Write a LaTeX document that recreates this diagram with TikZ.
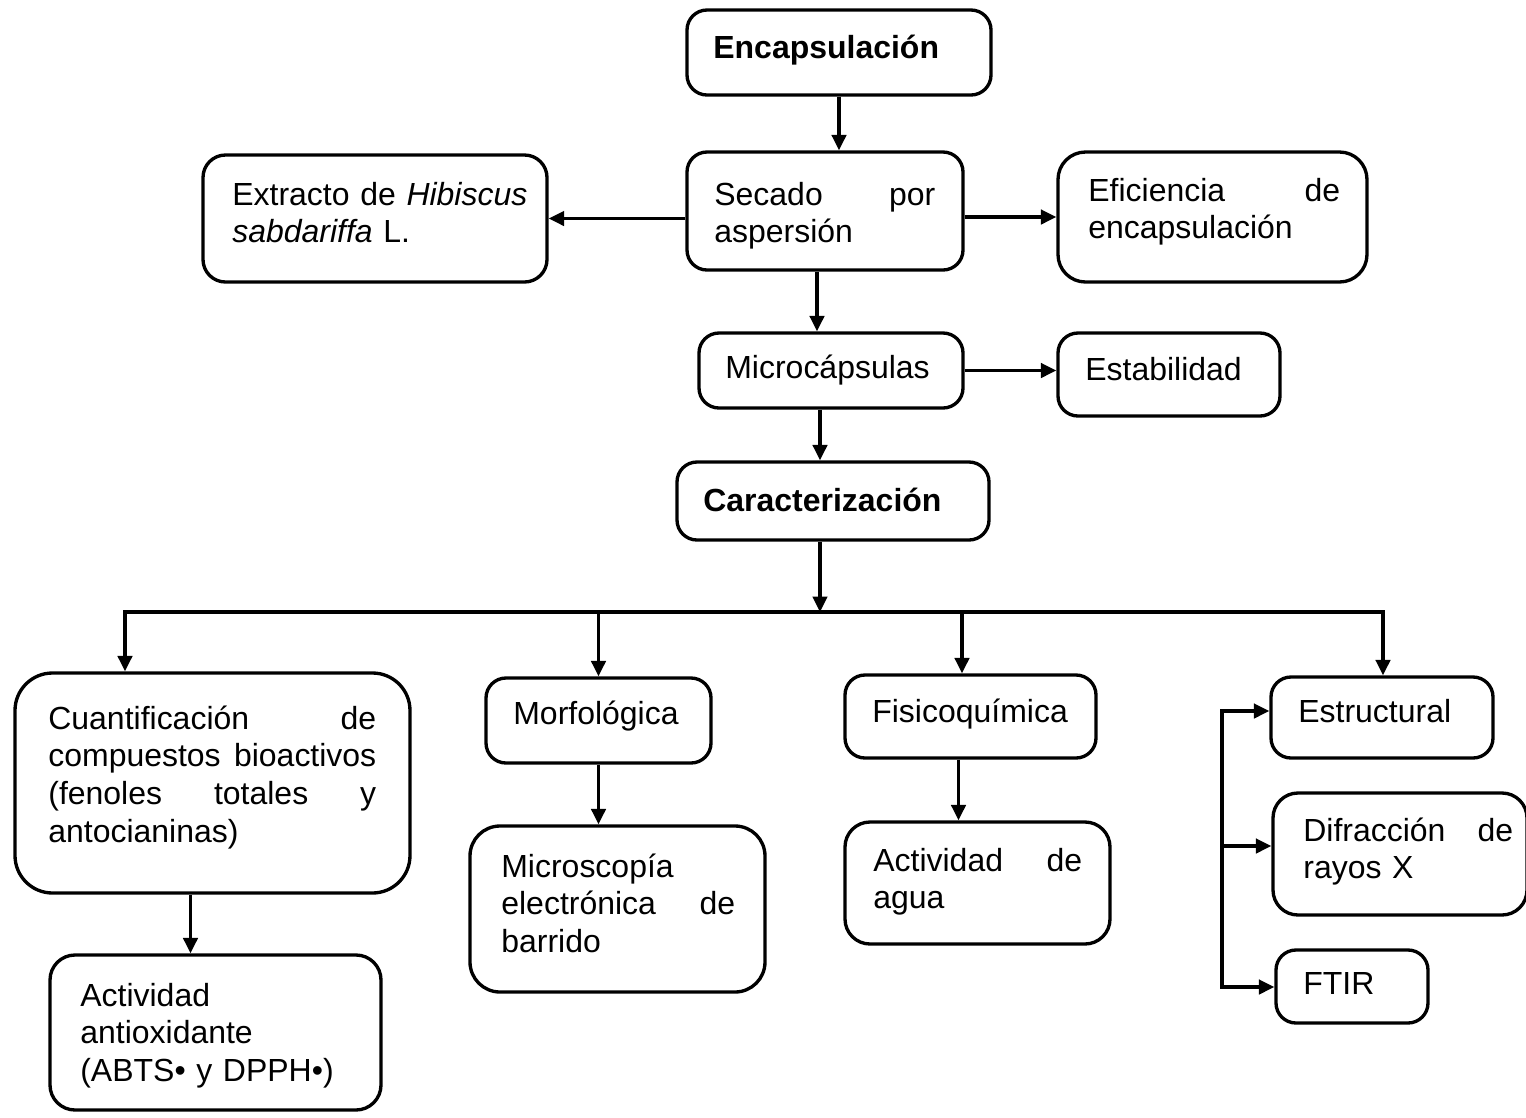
\documentclass[tikz,border=0pt]{standalone}
\usepackage{fontspec}
\setmainfont{Liberation Sans}
\usepackage{tikz}
\usetikzlibrary{arrows.meta,positioning,fit,calc}
\tikzset{
    flowBox/.style={
        draw,
        line width=1.9pt,
        rounded corners=4mm,
        inner sep=0pt
    },
    flowText/.style={
        anchor=base west,
        inner sep=0pt,
        align=left,
        font=\fontsize{18.2pt}{21.6pt}\selectfont
    },
    flowArrow/.style={
        -{Triangle[length=3.1mm,width=2.9mm]},
        line width=1.8pt
    },
    flowLine/.style={
        line width=1.8pt,
        line cap=rect
    }
}

\begin{document}
\begin{tikzpicture}[x=0.02cm,y=-0.02cm]
    \useasboundingbox (0,0) rectangle (1526,1117);

    % boxes
    \node[flowBox,fit={(687,10) (991,95)}] (encap) {};
    \node[flowBox,fit={(687,152) (963,270)}] (secado) {};
    \node[flowBox,rounded corners=4.5mm,fit={(203,155) (547,282)}] (extracto) {};
    \node[flowBox,rounded corners=5.5mm,fit={(1058,152) (1367,282)}] (efic) {};
    \node[flowBox,fit={(699,333) (963,408)}] (micro) {};
    \node[flowBox,fit={(1058,333) (1280,416)}] (estab) {};
    \node[flowBox,fit={(677,462) (989,540)}] (carac) {};
    \node[flowBox,rounded corners=7.5mm,fit={(15,673) (410,893)}] (cuant) {};
    \node[flowBox,rounded corners=5mm,fit={(50,955) (381,1110)}] (antiox) {};
    \node[flowBox,fit={(486,678) (711,763)}] (morf) {};
    \node[flowBox,rounded corners=6mm,fit={(470,826) (765,992)}] (micros) {};
    \node[flowBox,fit={(845,675) (1096,758)}] (fisico) {};
    \node[flowBox,rounded corners=5mm,fit={(845,822) (1110,944)}] (agua) {};
    \node[flowBox,fit={(1271,677) (1493,758)}] (estruct) {};
    \node[flowBox,rounded corners=5mm,fit={(1273,793) (1527,915)}] (difr) {};
    \node[flowBox,fit={(1276,950) (1428,1023)}] (ftir) {};

    % texts
    \node[flowText] (encapT) at (713,58) {\textbf{Encapsulación}};
    \node[flowText,text width=4.42cm] (secadoT) at (714,205) {Secado\hfill por\\aspersión};
    \node[flowText,text width=6cm] (extractoT) at (232,205) {Extracto de \textit{Hibiscus}\\\textit{sabdariffa} L.};
    \node[flowText,text width=5.04cm] (eficT) at (1088,201) {Eficiencia\hfill de\\encapsulación};
    \node[flowText] (microT) at (725,378) {Microcápsulas};
    \node[flowText] (estabT) at (1085,380) {Estabilidad};
    \node[flowText] (caracT) at (703,511) {\textbf{Caracterización}};
    \node[flowText,text width=6.56cm] (cuantT) at (48,729) {Cuantificación\hfill de\\compuestos\hfill bioactivos\\(fenoles\hfill totales\hfill y\\antocianinas)};
    \node[flowText,text width=6cm] (antioxT) at (80,1006) {Actividad\\antioxidante\\(ABTS• y DPPH•)};
    \node[flowText] (morfT) at (513,724) {Morfológica};
    \node[flowText,text width=4.68cm] (microsT) at (501,877) {Microscopía\\electrónica\hfill de\\barrido};
    \node[flowText] (fisicoT) at (872,722) {Fisicoquímica};
    \node[flowText,text width=4.18cm] (aguaT) at (873,871) {Actividad\hfill de\\agua};
    \node[flowText] (estructT) at (1298,722) {Estructural};
    \node[flowText,text width=4.2cm] (difrT) at (1303,841) {Difracción\hfill de\\rayos X};
    \node[flowText] (ftirT) at (1303,994) {FTIR};

    % connectors
    \draw[flowArrow] (encap.south) -- (encap.south |- secado.north);
    \draw[flowArrow] (extracto.east -| secado.west) -- (extracto.east);
    \draw[flowArrow] (efic.west -| secado.east) -- (efic.west);
    \coordinate (secDrop) at ($(secado.south)+(-8,0)$);
    \draw[flowArrow] (secDrop) -- (secDrop |- micro.north);
    \draw[flowArrow] (micro.east) -- (micro.east -| estab.west);
    \coordinate (micDrop) at ($(micro.south)+(-11,0)$);
    \draw[flowArrow] (micDrop) -- (micDrop |- carac.north);

    \coordinate (busL) at (125,612);
    \coordinate (busR) at (1383,612);
    \coordinate (busC) at (820,612);
    \coordinate (fisDrop) at (962,612);
    \draw[flowLine] (busL) -- (busR);
    \draw[flowArrow] (carac.south -| busC) -- (busC);
    \draw[flowArrow] (busL) -- (busL |- cuant.north);
    \draw[flowArrow] (busL -| morf.north) -- (morf.north);
    \draw[flowArrow] (fisDrop) -- (fisDrop |- fisico.north);
    \draw[flowArrow] (busR) -- (busR |- estruct.north);

    \coordinate (cuaDrop) at ($(cuant.south)+(-22,0)$);
    \draw[flowArrow] (cuaDrop) -- (cuaDrop |- antiox.north);
    \draw[flowArrow] (morf.south) -- (morf.south |- micros.north);
    \coordinate (fisDrop2) at ($(fisico.south)+(-12,0)$);
    \draw[flowArrow] (fisDrop2) -- (fisDrop2 |- agua.north);

    \coordinate (brT) at (1222,711);
    \coordinate (brM) at (1222,846);
    \coordinate (brB) at (1222,987);
    \draw[flowLine] (brT) -- (brB);
    \draw[flowArrow] (brT) -- (brT -| estruct.west);
    \draw[flowArrow] (brM) -- (brM -| difr.west);
    \draw[flowArrow] (brB) -- (brB -| ftir.west);
\end{tikzpicture}
\end{document}
